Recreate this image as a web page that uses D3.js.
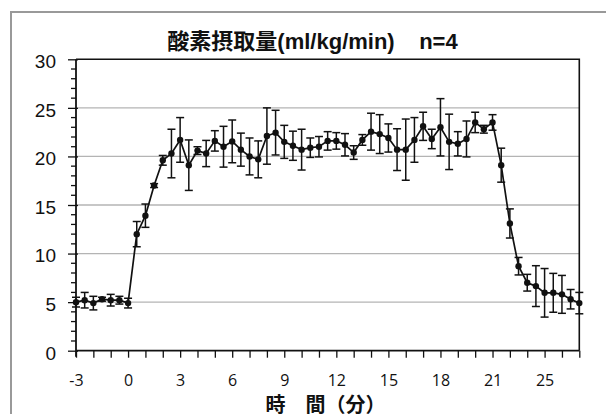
<!DOCTYPE html>
<html><head><meta charset="utf-8">
<script src="https://cdn.jsdelivr.net/npm/d3@7"></script>
<style>body{margin:0;background:#fff}svg{display:block}</style>
</head><body>
<svg id="c" width="606" height="414"></svg>
<script>
const times = [-3,-2.5,-2,-1.5,-1,-0.5,0,0.5,1,1.5,2,2.5,3,3.5,4,4.5,5,5.5,6,6.5,7,7.5,8,8.5,9,9.5,10,10.5,11,11.5,12,12.5,13,13.5,14,14.5,15,15.5,16,16.5,17,17.5,18,18.5,19,19.5,20,20.5,21,21.5,22,22.5,23,23.5,24,24.5,25,25.5,26];
const means = [5.0,5.2,4.9,5.3,5.2,5.2,4.9,12.0,13.9,17.0,19.6,20.3,21.7,19.1,20.6,20.3,21.6,21.0,21.55,20.7,20.0,19.7,22.1,22.45,21.5,21.1,20.7,20.9,21.0,21.6,21.6,21.2,20.4,21.7,22.55,22.3,21.9,20.7,20.7,21.7,23.1,21.8,23.0,21.5,21.3,21.8,23.5,22.8,23.5,19.1,13.1,8.7,7.0,6.65,5.96,5.96,5.8,5.3,4.9];
const errors = [0.5,0.8,0.7,0.2,0.6,0.4,0.5,1.3,1.2,0.2,0.5,2.5,2.3,2.6,0.4,1.35,1.05,2.1,2.2,1.7,1.9,1.9,2.9,2.3,1.7,1.5,2.1,1.0,1.05,0.95,0.85,1.15,0.7,0.55,1.9,2.0,1.45,2.15,3.15,2.3,1.45,1.0,2.95,2.85,1.25,1.85,1.05,0.4,0.8,1.75,1.5,0.9,0.86,2.1,2.5,2.0,1.95,1.0,1.1];
const xTickPositions = [-3,0,3,6,9,12,15,18,21,24];
const xTickLabels = ["-3","0","3","6","9","12","15","18","21","25"];
const yTicks = [0,5,10,15,20,25,30];
const title = "酸素摂取量(ml/kg/min)    n=4";
const xTitle = "時　間（分）";

const svg = d3.select("#c");
const L = 76, R = 579.3, T = 59.3, B = 350.7;
const x = d3.scaleLinear().domain([-3, 26]).range([L, R]);
const y = d3.scaleLinear().domain([0, 30]).range([B, T]);

// outer frame (left and top edges visible)
svg.append("path").attr("d", "M11,420V12H620")
  .attr("fill", "none").attr("stroke", "#999").attr("stroke-width", 2);

// title
svg.append("text").attr("x", 312.5).attr("y", 49).attr("text-anchor", "middle")
  .attr("font-family", "'Liberation Sans','Noto Sans CJK JP',sans-serif").attr("font-weight", "bold")
  .attr("font-size", 22).attr("fill", "#111").style("white-space", "pre").text(title);

// gridlines
svg.append("g").selectAll("line").data(yTicks.filter(v => v > 0 && v < 30)).join("line")
  .attr("x1", L).attr("x2", R).attr("y1", d => y(d)).attr("y2", d => y(d))
  .attr("stroke", "#b4b4b4").attr("stroke-width", 1.3);

// plot border top & right
svg.append("path").attr("d", `M${L},${T}H${R}V${B}`).attr("fill", "none")
  .attr("stroke", "#111").attr("stroke-width", 1.6);

// y axis minor ticks
const yMinor = d3.range(0, 31, 1).filter(v => v % 5 !== 0);
svg.append("g").selectAll("line").data(yMinor).join("line")
  .attr("x1", L - 5).attr("x2", L).attr("y1", d => y(d)).attr("y2", d => y(d))
  .attr("stroke", "#111").attr("stroke-width", 1.3);
// y axis
const yAxis = d3.axisLeft(y).tickValues(yTicks).tickSize(8).tickPadding(12).tickFormat(d3.format("d"));
const gy = svg.append("g").attr("transform", `translate(${L},0)`).call(yAxis);
gy.select(".domain").attr("stroke", "#111").attr("stroke-width", 1.8).attr("d", `M0,${T}V${B + 6}`);
gy.selectAll(".tick line").attr("stroke", "#111").attr("stroke-width", 1.3).attr("x2", -8).attr("x1", 2);
gy.selectAll(".tick text").attr("font-family", "'Liberation Sans',Arial,sans-serif").attr("font-size", 19)
  .attr("fill", "#111").attr("dy", null).attr("y", 8.3).attr("x", -20);

// x axis
const xAllTicks = d3.range(-3, 27, 1);
const xAxis = d3.axisBottom(x).tickValues(xAllTicks).tickSize(7)
  .tickFormat(d => { const i = xTickPositions.indexOf(d); return i >= 0 ? xTickLabels[i] : ""; });
const gx = svg.append("g").attr("transform", `translate(0,${B})`).call(xAxis);
gx.select(".domain").attr("stroke", "#111").attr("stroke-width", 1.8).attr("d", `M${L},0H${R}`);
gx.selectAll(".tick line").attr("stroke", "#111").attr("stroke-width", 1.3);
gx.selectAll(".tick text").attr("font-family", "'Open Sans','Noto Sans',sans-serif").attr("font-size", 16)
  .attr("fill", "#111").attr("dy", null).attr("y", 35);

// x title
svg.append("text").attr("x", 325.6).attr("y", 411.5).attr("text-anchor", "middle")
  .attr("font-family", "'Noto Sans CJK JP',sans-serif").attr("font-weight", "bold")
  .attr("font-size", 20).attr("fill", "#111").text(xTitle);

const data = times.map((t, i) => ({t, m: means[i], e: errors[i]}));

// error bars
const eb = svg.append("g").attr("stroke", "#111").attr("stroke-width", 1.5);
eb.selectAll("line.v").data(data).join("line").attr("class", "v")
  .attr("x1", d => x(d.t)).attr("x2", d => x(d.t))
  .attr("y1", d => y(d.m - d.e)).attr("y2", d => y(d.m + d.e));
eb.selectAll("line.cu").data(data).join("line").attr("class", "cu")
  .attr("x1", d => x(d.t) - 4).attr("x2", d => x(d.t) + 4)
  .attr("y1", d => y(d.m + d.e)).attr("y2", d => y(d.m + d.e));
eb.selectAll("line.cl").data(data).join("line").attr("class", "cl")
  .attr("x1", d => x(d.t) - 4).attr("x2", d => x(d.t) + 4)
  .attr("y1", d => y(d.m - d.e)).attr("y2", d => y(d.m - d.e));

// line
svg.append("path").datum(data)
  .attr("d", d3.line().x(d => x(d.t)).y(d => y(d.m)))
  .attr("fill", "none").attr("stroke", "#111").attr("stroke-width", 1.7);

// markers
svg.append("g").selectAll("circle").data(data).join("circle")
  .attr("cx", d => x(d.t)).attr("cy", d => y(d.m)).attr("r", 3.2).attr("fill", "#111");
</script>
</body></html>
